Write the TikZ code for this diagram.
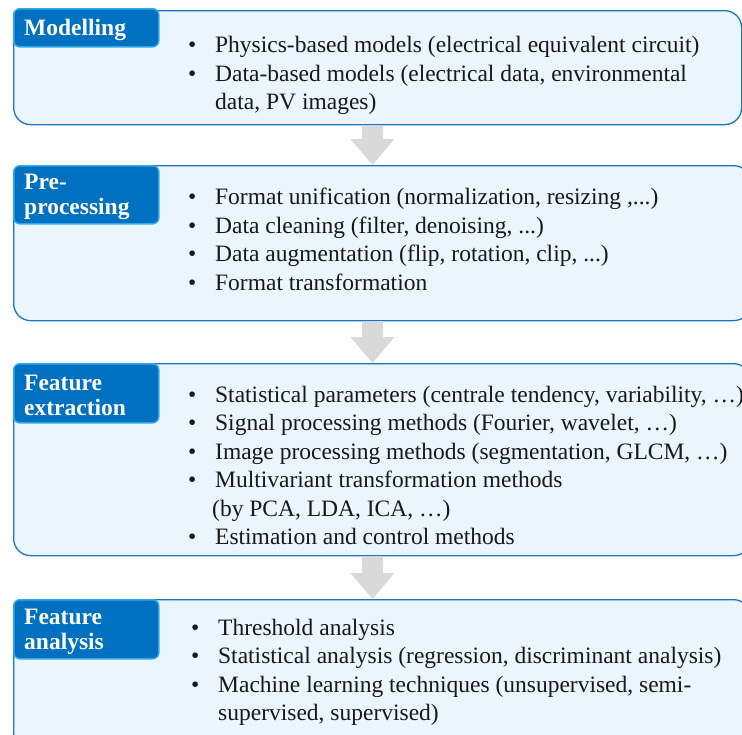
\documentclass[tikz,border=0pt]{standalone}
\usepackage{fontspec}
\setmainfont{Liberation Serif}
\usetikzlibrary{calc}
\definecolor{hdfill}{HTML}{0070C0}
\definecolor{hdline}{HTML}{2FA9EC}
\definecolor{bxfill}{HTML}{EAF5FD}
\definecolor{bxline}{HTML}{1A75C4}
\definecolor{arrfill}{HTML}{D9D9D9}
\begin{document}
\begin{tikzpicture}[x=1pt,y=-1pt,
  outer/.style={draw=bxline, line width=1.3pt, fill=bxfill, rounded corners=17pt, anchor=north west, inner sep=0pt},
  head/.style={draw=hdline, line width=1.5pt, fill=hdfill, rounded corners=6pt, anchor=north west, inner sep=0pt, minimum width=145pt},
  htext/.style={text=white, font=\fontsize{23.5}{25}\selectfont\bfseries, align=left, anchor=west, inner sep=0pt},
  itm/.style={anchor=base west, inner sep=0pt, font=\fontsize{23.5}{28}\selectfont, text=black!90},
  flowarrow/.style={fill=arrfill, draw=none}
]
\useasboundingbox (0,0) rectangle (742,734);
\clip (0,0) rectangle (742,734);

% outer boxes
\node[outer, minimum width=728pt, minimum height=114pt] (b1) at (13,10) {};
\node[outer, minimum width=737pt, minimum height=155pt] (b2) at (13,165) {};
\node[outer, minimum width=737pt, minimum height=192pt] (b3) at (13,363) {};
\node[outer, minimum width=737pt, minimum height=150pt] (b4) at (13,599) {};

% headers
\node[head, minimum height=38pt] (h1) at (13,8) {};
\node[head, minimum height=58pt] (h2) at (13,165) {};
\node[head, minimum height=59pt] (h3) at (13,363) {};
\node[head, minimum height=59pt] (h4) at (13,599) {};
\node[htext] (t1) at ([xshift=11pt,yshift=-2.5pt]h1.west) {Modelling};
\node[htext] (t2) at ([xshift=11pt,yshift=-2.5pt]h2.west) {Pre-\\processing};
\node[htext] (t3) at ([xshift=11pt,yshift=-2.5pt]h3.west) {Feature\\extraction};
\node[htext] (t4) at ([xshift=11pt,yshift=-2.5pt]h4.west) {Feature\\analysis};

% arrows
\coordinate (ax) at (372.5,0);
\foreach \a/\b in {b1/b2, b2/b3, b3/b4}{
  \fill[flowarrow] let \p1=(ax |- \a.south), \p2=(ax |- \b.north) in
    (\x1-10.5pt,\y1) -- (\x1+10.5pt,\y1) -- (\x1+10.5pt,\y2+26pt) -- (\x1+22pt,\y2+26pt)
    -- (\x1,\y2) -- (\x1-22pt,\y2+26pt) -- (\x1-10.5pt,\y2+26pt) -- cycle;
}

% box 1 items
\node[itm] (i11) at (188,52) {\makebox[27pt][l]{\textbullet}Physics-based models (electrical equivalent circuit)};
\node[itm] (i12) at (188,81) {\makebox[27pt][l]{\textbullet}Data-based models (electrical data, environmental};
\node[itm] (i13) at (215,109) {data, PV images)};

% box 2 items
\node[itm] (i21) at (188,204.5) {\makebox[27pt][l]{\textbullet}Format unification (normalization, resizing ,...)};
\node[itm] (i22) at (188,233) {\makebox[27pt][l]{\textbullet}Data cleaning (filter, denoising, ...)};
\node[itm] (i23) at (188,261.5) {\makebox[27pt][l]{\textbullet}Data augmentation (flip, rotation, clip, ...)};
\node[itm] (i24) at (188,290) {\makebox[27pt][l]{\textbullet}Format transformation};

% box 3 items
\node[itm] (i31) at (188,402) {\makebox[27pt][l]{\textbullet}Statistical parameters (centrale tendency, variability, …)};
\node[itm] (i32) at (188,430.5) {\makebox[27pt][l]{\textbullet}Signal processing methods (Fourier, wavelet, …)};
\node[itm] (i33) at (188,459) {\makebox[27pt][l]{\textbullet}Image processing methods (segmentation, GLCM, …)};
\node[itm] (i34) at (188,487.5) {\makebox[27pt][l]{\textbullet}Multivariant transformation methods};
\node[itm] (i35) at (212,516) {(by PCA, LDA, ICA, …)};
\node[itm] (i36) at (188,544.5) {\makebox[27pt][l]{\textbullet}Estimation and control methods};

% box 4 items
\node[itm] (i41) at (191,635) {\makebox[27pt][l]{\textbullet}Threshold analysis};
\node[itm] (i42) at (191,663.5) {\makebox[27pt][l]{\textbullet}Statistical analysis (regression, discriminant analysis)};
\node[itm] (i43) at (191,692) {\makebox[27pt][l]{\textbullet}Machine learning techniques (unsupervised, semi-};
\node[itm] (i44) at (218,720.5) {supervised, supervised)};
\end{tikzpicture}
\end{document}
